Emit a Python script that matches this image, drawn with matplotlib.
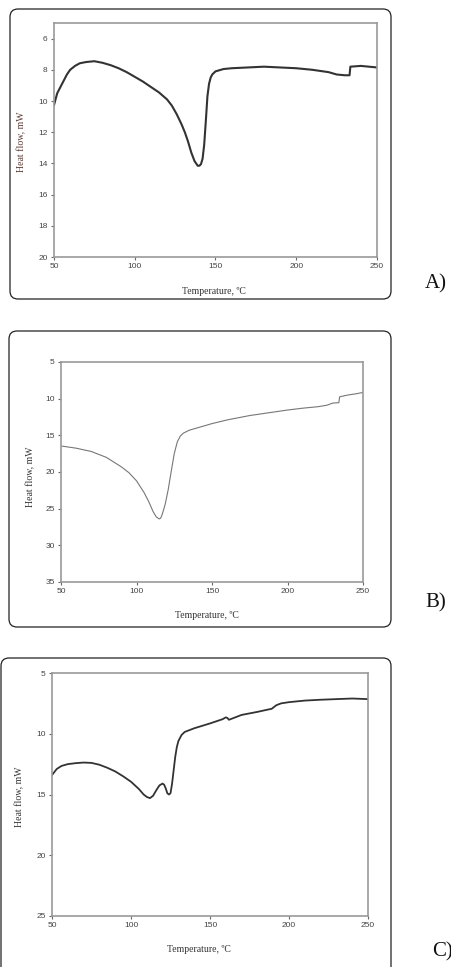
import matplotlib
matplotlib.use("Agg")
import matplotlib.pyplot as plt
from matplotlib.patches import FancyBboxPatch

# panel A
temp_a = [50, 52, 55, 58, 60, 63, 66, 70, 75, 80, 85, 90, 95, 100, 105, 110, 115, 120, 123, 126,
          129, 131, 133, 135, 137, 139, 140, 141, 142, 143, 144, 145, 146, 147, 148, 150, 155, 160,
          170, 180, 190, 200, 210, 220, 225, 230, 233, 233.5, 240, 245, 250]
flow_a = [10.26, 9.5, 8.9, 8.3, 8.0, 7.75, 7.58, 7.5, 7.45, 7.55, 7.7, 7.9, 8.15, 8.45, 8.75, 9.1,
          9.45, 9.9, 10.3, 10.85, 11.5, 12.0, 12.6, 13.3, 13.85, 14.15, 14.15, 14.05, 13.7, 12.8,
          11.3, 9.7, 8.9, 8.5, 8.3, 8.1, 7.95, 7.9, 7.85, 7.8, 7.85, 7.9, 8.0, 8.15, 8.3, 8.35,
          8.35, 7.8, 7.75, 7.8, 7.85]

# panel B
temp_b = [50, 60, 70, 80, 90, 95, 100, 105, 108, 111, 113, 115, 116, 117, 119, 121, 123, 125, 127,
          129, 131, 135, 140, 150, 160, 175, 190, 200, 210, 220, 226, 230, 234, 234.5, 240, 245, 250]
flow_b = [16.45, 16.75, 17.2, 18.0, 19.3, 20.1, 21.2, 22.8, 24.0, 25.4, 26.1, 26.4, 26.3, 25.8,
          24.4, 22.4, 19.9, 17.5, 15.9, 15.1, 14.7, 14.3, 14.0, 13.4, 12.9, 12.3, 11.85, 11.55,
          11.3, 11.1, 10.9, 10.6, 10.55, 9.75, 9.5, 9.35, 9.15]

# panel C
temp_c = [50, 53, 56, 60, 65, 70, 75, 80, 85, 90, 95, 100, 105, 108, 110, 112, 114, 116, 118, 120,
          121, 122, 123, 124, 125, 126, 127, 128, 129, 130, 132, 134, 140, 150, 158, 160, 161, 162,
          165, 170, 180, 187, 189, 192, 195, 200, 210, 220, 230, 240, 250]
flow_c = [13.4, 12.9, 12.65, 12.5, 12.42, 12.37, 12.4, 12.55, 12.8, 13.1, 13.5, 13.95, 14.55, 15.0,
          15.2, 15.3, 15.1, 14.65, 14.25, 14.1, 14.2, 14.5, 14.9, 15.0, 14.9, 14.1, 13.0, 11.9,
          11.1, 10.6, 10.1, 9.85, 9.55, 9.15, 8.8, 8.65, 8.7, 8.85, 8.7, 8.45, 8.2, 8.0, 7.95,
          7.65, 7.5, 7.4, 7.27, 7.2, 7.15, 7.1, 7.15]

xticks = [50, 100, 150, 200, 250]
W, H = 452, 967

fig = plt.figure(figsize=(W / 100, H / 100), dpi=100)
fig.patch.set_facecolor("white")


def px_rect(l, r, t, b):
    return [l / W, 1 - b / H, (r - l) / W, (b - t) / H]


def box(l, r, t, b):
    # pixel coords -> inches so the corner radius stays round
    p = FancyBboxPatch((l / 100, (H - b) / 100), (r - l) / 100, (b - t) / 100,
                       boxstyle="round,pad=0,rounding_size=0.08",
                       transform=fig.dpi_scale_trans, fill=False, ec="#222222", lw=0.9)
    fig.patches.append(p)


panels = [
    dict(t=temp_a, f=flow_a, rect=(54, 377, 23, 257), ylim=(20, 5), yt=range(6, 21, 2),
         box=(10, 391, 9, 299), lc="#333333", lw=1.5, xl=(214, 292), yl=(22, 142),
         ylc="#5a3a34", tag="A)", tagpos=(436, 284)),
    dict(t=temp_b, f=flow_b, rect=(61, 363, 362, 582), ylim=(35, 5), yt=range(5, 36, 5),
         box=(9, 391, 331, 627), lc="#777777", lw=0.8, xl=(207, 615), yl=(31, 477),
         ylc="#333333", tag="B)", tagpos=(436, 603)),
    dict(t=temp_c, f=flow_c, rect=(52, 368, 673, 916), ylim=(25, 5), yt=range(5, 26, 5),
         box=(1, 391, 658, 990), lc="#333333", lw=1.3, xl=(199, 949), yl=(20, 797),
         ylc="#333333", tag="C)", tagpos=(443, 952)),
]

for p in panels:
    box(*p["box"])
    ax = fig.add_axes(px_rect(*p["rect"]))
    ax.plot(p["t"], p["f"], color=p["lc"], lw=p["lw"])
    ax.set_xlim(50, 250)
    ax.set_ylim(*p["ylim"])
    ax.set_xticks(xticks)
    ax.set_yticks(list(p["yt"]))
    for s in ax.spines.values():
        s.set_color("#999999")
        s.set_linewidth(1.2)
    ax.tick_params(direction="out", length=2.5, width=0.8, color="#666666",
                   labelsize=6, labelcolor="#444444", pad=2)
    for lab in ax.get_xticklabels() + ax.get_yticklabels():
        lab.set_fontfamily("Liberation Sans")
    fig.text(p["xl"][0] / W, 1 - p["xl"][1] / H, "Temperature, \u00baC", ha="center", va="center",
             fontsize=7, family="Liberation Serif", color="#333333")
    fig.text(p["yl"][0] / W, 1 - p["yl"][1] / H, "Heat flow, mW", ha="center", va="center",
             rotation=90, fontsize=7, family="Liberation Serif", color=p["ylc"])
    fig.text(p["tagpos"][0] / W, 1 - p["tagpos"][1] / H, p["tag"], ha="center", va="center",
             fontsize=15, family="Liberation Serif", color="#111111")

fig.savefig("out.png", dpi=100, facecolor="white")
